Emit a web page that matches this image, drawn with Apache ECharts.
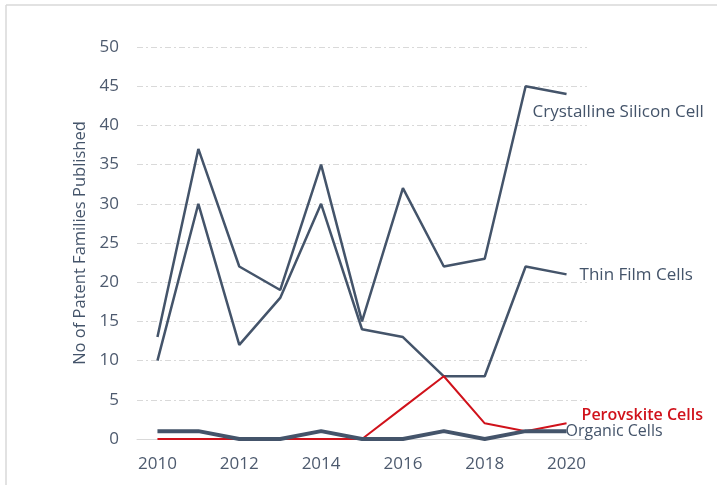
<!DOCTYPE html>
<html>
<head>
<meta charset="utf-8">
<script src="https://cdn.jsdelivr.net/npm/echarts@6/dist/echarts.min.js"></script>
<style>
    html, body { margin: 0; padding: 0; background: #fff; }
    #chart { width: 717px; height: 485px; }
</style>
</head>
<body>
<div id="chart"></div>
<script>
(function () {
    'use strict';

    var years = ['2010', '2011', '2012', '2013', '2014', '2015', '2016', '2017', '2018', '2019', '2020'];
    var crystalline = [13, 37, 22, 19, 35, 15, 32, 22, 23, 45, 44];
    var thinFilm = [10, 30, 12, 18, 30, 14, 13, 8, 8, 22, 21];
    var perovskite = [0, 0, 0, 0, 0, 0, 4, 8, 2, 1, 2];
    var organic = [1, 1, 0, 0, 1, 0, 0, 1, 0, 1, 1];

    var slate = '#44546a';
    var red = '#d0121b';
    var font = 'Open Sans';

    var myChart = echarts.init(document.getElementById('chart'));

    function lineSeries(name, data, color, width, label) {
        return {
            name: name,
            type: 'line',
            data: data,
            symbol: 'none',
            animation: false,
            lineStyle: { color: color, width: width },
            endLabel: label
        };
    }

    myChart.setOption({
        textStyle: { fontFamily: font },
        graphic: [
            { type: 'line', shape: { x1: 6, y1: 5, x2: 717, y2: 5 }, style: { stroke: '#d9d9d9', lineWidth: 1.5 } },
            { type: 'line', shape: { x1: 6, y1: 5, x2: 6, y2: 485 }, style: { stroke: '#d9d9d9', lineWidth: 1.5 } }
        ],
        grid: { left: 137, right: 130, top: 47, bottom: 46 },
        xAxis: {
            type: 'category',
            data: years,
            boundaryGap: true,
            axisLine: { lineStyle: { color: '#d9d9d9', width: 1 } },
            axisTick: { show: false },
            axisLabel: { interval: 1, color: '#4d5a6e', fontSize: 17, margin: 17, fontFamily: font }
        },
        yAxis: {
            type: 'value',
            min: 0,
            max: 50,
            interval: 5,
            name: 'No of Patent Families Published',
            nameLocation: 'middle',
            nameGap: 45,
            nameTextStyle: { color: slate, fontSize: 16.5, fontFamily: font },
            axisLine: { show: false },
            axisTick: { show: false },
            axisLabel: { color: '#4d5a6e', fontSize: 17, margin: 18, fontFamily: font },
            splitLine: { lineStyle: { color: '#d9d9d9', width: 1, type: [6, 3, 2, 3] } }
        },
        series: [
            lineSeries('Crystalline Silicon Cell', crystalline, slate, 2.5, {
                show: true, formatter: '{a}', color: slate, fontSize: 17, offset: [-42, 18], fontFamily: font
            }),
            lineSeries('Thin Film Cells', thinFilm, slate, 2.5, {
                show: true, formatter: '{a}', color: slate, fontSize: 17, offset: [5, 1], fontFamily: font
            }),
            lineSeries('Perovskite Cells', perovskite, red, 2, {
                show: true, formatter: '{a}', color: red, fontSize: 16, fontWeight: 600, offset: [7, -8], fontFamily: font
            }),
            lineSeries('Organic Cells', organic, slate, 4, {
                show: true, formatter: '{a}', color: slate, fontSize: 16, offset: [-9, 0], fontFamily: font
            })
        ]
    });
}());
</script>
</body>
</html>
